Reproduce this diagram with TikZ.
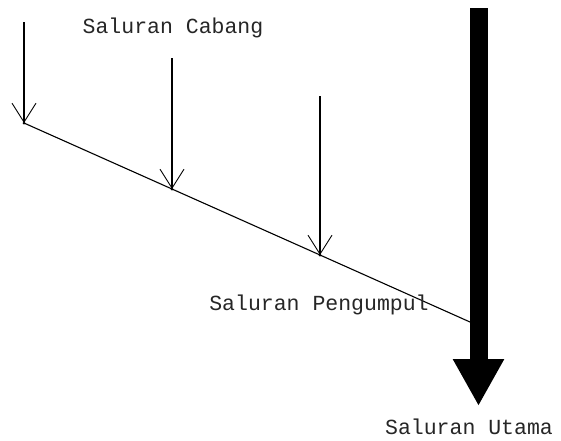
\documentclass[tikz,border=0pt]{standalone}
\usepackage{fontspec}
\setmonofont{Liberation Mono}
\usetikzlibrary{arrows.meta}
\begin{document}
\begin{tikzpicture}[x=1pt,y=-1pt,
  branch/.style={draw=black,line width=1.1pt,-{Straight Barb[length=19pt,width=24pt,line width=0.9pt]}},
  collector/.style={draw=black,line width=1.1pt},
  mainline/.style={draw=black,line width=18pt,-{Triangle[length=47pt,width=48pt]}},
  lbl/.style={font=\ttfamily\fontsize{21.5}{24}\selectfont,text=black!85,inner sep=0pt},
  joint/.style={circle,fill=black,inner sep=0pt,minimum size=3pt}]
\useasboundingbox (0,0) rectangle (561,440);
% junctions
\node[joint] (j1) at (24,123) {};
\node[joint] (j2) at (172,189) {};
\node[joint] (j3) at (320,255) {};
\coordinate (jend) at (470,322);
% branch starts
\coordinate (b1) at (24,22);
\coordinate (b2) at (172,58);
\coordinate (b3) at (320,96);
% main channel
\coordinate (mtop) at (478.5,8);
\coordinate (mtip) at (478.5,406);
% collector
\draw[collector] (j1.center) -- (j2.center) -- (j3.center) -- (jend);
% branches
\draw[branch] (b1) -- (j1.center);
\draw[branch] (b2) -- (j2.center);
\draw[branch] (b3) -- (j3.center);
% main
\draw[mainline] (mtop) -- (mtip);
% labels
\node[lbl] (cabang) at (173,28) {Saluran Cabang};
\node[lbl] (pengumpul) at (319,305) {Saluran Pengumpul};
\node[lbl] (utama) at (469,427) {Saluran Utama};
\end{tikzpicture}
\end{document}
